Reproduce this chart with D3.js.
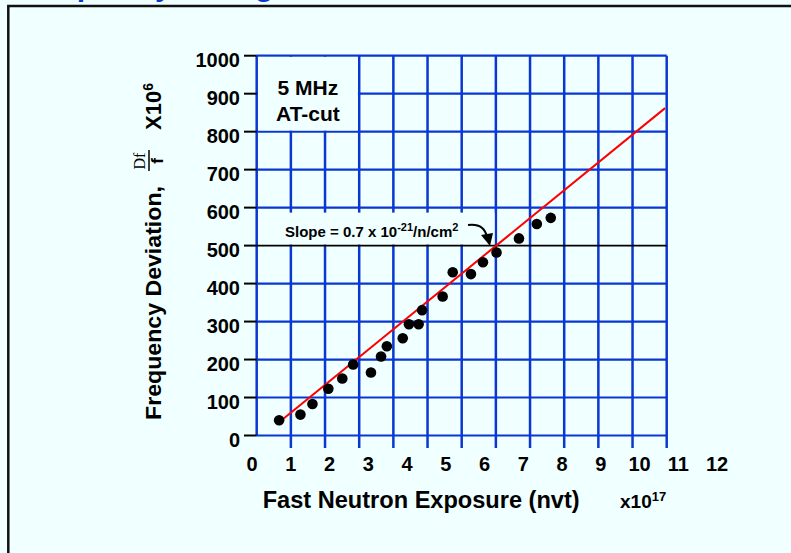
<!DOCTYPE html>
<html>
<head>
<meta charset="utf-8">
<script src="https://cdn.jsdelivr.net/npm/d3@7"></script>
<style>
html,body{margin:0;padding:0;background:#F0FFFF;overflow:hidden;}
svg{display:block;}
text{font-family:Arial,"Liberation Sans",Helvetica,sans-serif;font-weight:bold;fill:#000;}
</style>
</head>
<body>
<svg id="chart" width="791" height="553"></svg>
<script>
// ---- data ----
const exposure = [0.70,1.25,1.56,1.97,2.33,2.61,3.07,3.33,3.48,3.89,4.05,4.30,4.39,4.92,5.18,5.65,5.96,6.31,6.89,7.35,7.71];
const deviation = [40,55,83,123,150,187,166,208,235,256,293,293,330,366,430,425,456,482,519,557,573];
const fitX = [0.81,10.66];
const fitY = [44,862];
const xTickLabels = [0,1,2,3,4,5,6,7,8,9,10,11,12];
const yTickLabels = [0,100,200,300,400,500,600,700,800,900,1000];
const gridCols = [0,1,2,3,4,5,6,7,8,9,10,11,12];
const refLevel = [500];
const titleText = "Frequency Change due to Neutrons";
const boxLabel = ["5 MHz","AT-cut"];

const svg = d3.select("#chart");
const BLUE = "#0A37D2";
const BG = "#F0FFFF";

// scales
const x = d3.scaleLinear().domain([0,12]).range([252,717]);
const y = d3.scaleLinear().domain([0,1000]).range([435.5,55.7]);
const gx = d3.scaleLinear().domain([0,12]).range([256.7,666.7]);

// border frame
svg.append("rect").attr("x",8.3).attr("y",6).attr("width",800).attr("height",560)
  .attr("fill","none").attr("stroke","#111").attr("stroke-width",2.5);

// title (mostly above the visible area, as in the reference)
svg.append("text").attr("x",20).attr("y",-4).attr("font-size",30)
  .style("fill",BLUE).text(titleText);

const g = svg.append("g");

// horizontal grid lines
g.selectAll("line.h").data(yTickLabels.filter(v=>!refLevel.includes(v))).join("line")
  .attr("class","h")
  .attr("x1",gx(0)).attr("x2",gx(12))
  .attr("y1",d=>y(d)).attr("y2",d=>y(d))
  .attr("stroke",BLUE).attr("stroke-width",2.2);

// vertical grid lines
g.selectAll("line.v").data(gridCols).join("line")
  .attr("class","v")
  .attr("x1",d=>gx(d)).attr("x2",d=>gx(d))
  .attr("y1",y(1000)).attr("y2",d=>d===0?y(0):y(0)+12.5)
  .attr("stroke",BLUE).attr("stroke-width",2.5);

// blank box for "5 MHz AT-cut"
g.append("rect").attr("x",gx(0)+1.3).attr("y",y(1000)+1.2)
  .attr("width",gx(3)-gx(0)-2.6).attr("height",y(800)-y(1000)-2.3).attr("fill",BG);
// blank box for slope label
g.append("rect").attr("x",gx(0)+1.3).attr("y",y(600)+5)
  .attr("width",gx(7)-gx(0)-2.6).attr("height",y(500)-y(600)-6).attr("fill",BG);

// reference level line (black)
g.selectAll("line.ref").data(refLevel).join("line")
  .attr("x1",gx(0)).attr("x2",gx(12))
  .attr("y1",d=>y(d)).attr("y2",d=>y(d))
  .attr("stroke","#000").attr("stroke-width",1.6);

// y ticks (black dashes)
g.selectAll("line.yt").data(yTickLabels).join("line")
  .attr("x1",244).attr("x2",gx(0))
  .attr("y1",d=>y(d)).attr("y2",d=>y(d))
  .attr("stroke","#000").attr("stroke-width",2);

// y tick labels
g.selectAll("text.yl").data(yTickLabels).join("text")
  .attr("x",240).attr("y",d=>y(d)+11)
  .attr("text-anchor","end").attr("font-size",20)
  .text(d=>d);

// x tick labels
g.selectAll("text.xl").data(xTickLabels).join("text")
  .attr("x",d=>x(d)).attr("y",d=>470.5)
  .attr("text-anchor","middle").attr("font-size",20)
  .text(d=>d);

// fit line
g.append("line")
  .attr("x1",x(fitX[0])).attr("y1",y(fitY[0]))
  .attr("x2",x(fitX[1])).attr("y2",y(fitY[1]))
  .attr("stroke","#FF0000").attr("stroke-width",2);

// points
g.selectAll("circle").data(exposure.map((e,i)=>[e,deviation[i]])).join("circle")
  .attr("cx",d=>x(d[0])).attr("cy",d=>y(d[1])).attr("r",5.3).attr("fill","#000");

// box label
g.selectAll("text.box").data(boxLabel).join("text")
  .attr("x",(gx(0)+gx(3))/2).attr("y",(d,i)=>y(1000)+39+i*26)
  .attr("text-anchor","middle").attr("font-size",21).text(d=>d);

// slope annotation
const sl = g.append("text").attr("x",285).attr("y",237).attr("font-size",15);
sl.append("tspan").text("Slope = 0.7 x 10");
sl.append("tspan").attr("dy",-6).attr("font-size",11).text("-21");
sl.append("tspan").attr("dy",6).text("/n/cm");
sl.append("tspan").attr("dy",-6).attr("font-size",11).text("2");

// arrow
const arrowPath = d3.path();
arrowPath.moveTo(468,225);
arrowPath.quadraticCurveTo(484,223,487,237);
g.append("path").attr("d",arrowPath.toString()).attr("fill","none").attr("stroke","#000").attr("stroke-width",2);
g.append("path").attr("d","M481,235 L493,233 L490,246 Z").attr("fill","#000");

// axis titles
svg.append("text").attr("x",262.7).attr("y",508).attr("font-size",23)
  .attr("textLength",317).attr("lengthAdjust","spacingAndGlyphs")
  .text("Fast Neutron Exposure (nvt)");
const xu = svg.append("text").attr("x",620).attr("y",508).attr("font-size",19);
xu.append("tspan").text("x10");
xu.append("tspan").attr("dy",-7).attr("font-size",13).text("17");

const yt = svg.append("g").attr("transform","translate(161,420) rotate(-90)");
yt.append("text").attr("x",0).attr("y",0).attr("font-size",22)
  .attr("textLength",234).attr("lengthAdjust","spacingAndGlyphs")
  .text("Frequency Deviation,");
yt.append("text").attr("x",259).attr("y",-16).attr("text-anchor","middle")
  .attr("font-size",16).style("font-family","'Liberation Serif','Times New Roman',serif").style("font-weight","normal")
  .text("Df");
yt.append("line").attr("x1",249).attr("x2",270).attr("y1",-12).attr("y2",-12).attr("stroke","#000").attr("stroke-width",1.5);
yt.append("text").attr("x",259).attr("y",2).attr("text-anchor","middle").attr("font-size",17).text("f");
const yu = yt.append("text").attr("x",290).attr("y",0).attr("font-size",22);
yu.append("tspan").text("X10");
yu.append("tspan").attr("dy",-8).attr("font-size",14).text("6");
</script>
</body>
</html>
